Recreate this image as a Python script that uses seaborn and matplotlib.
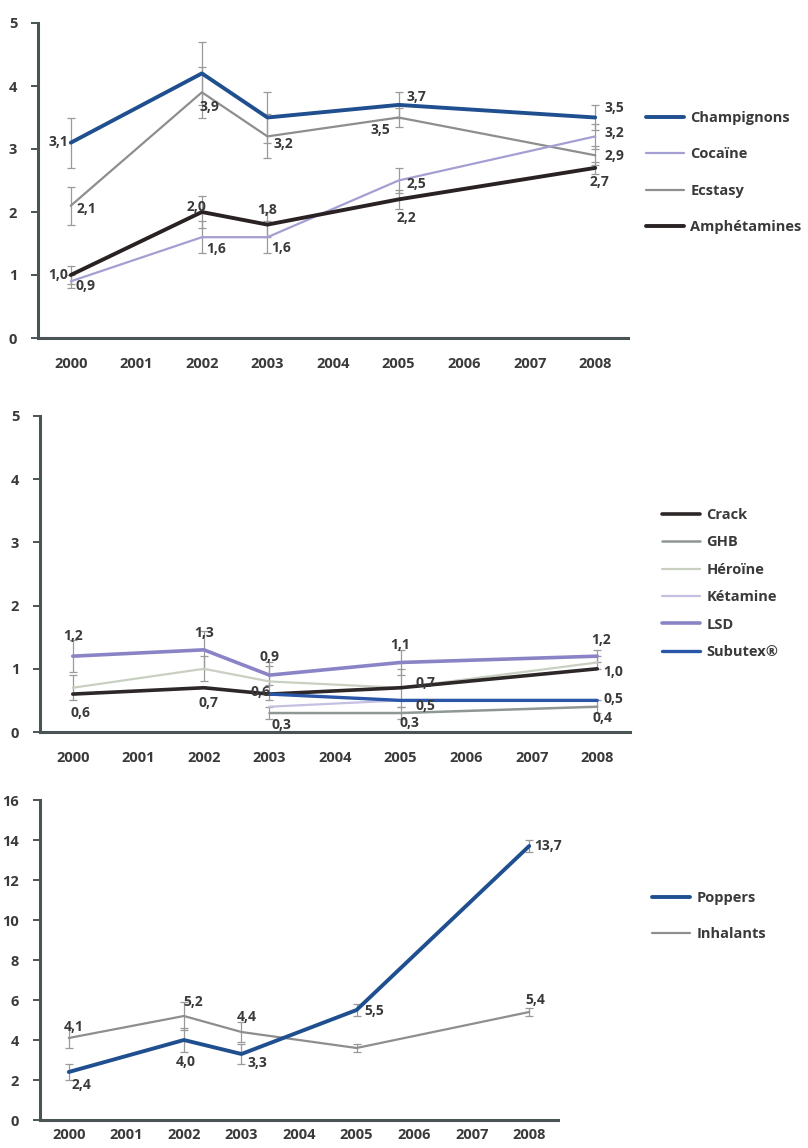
import numpy as np
import pandas as pd
import matplotlib
matplotlib.use("Agg")
import matplotlib.pyplot as plt
from matplotlib.lines import Line2D
import seaborn as sns

sns.set_theme(style="white")
plt.rcParams["font.family"] = ["Open Sans", "DejaVu Sans"]

# ---------------------------------------------------------------- data
years = [2000, 2002, 2003, 2005, 2008]
year_labels = [str(y) for y in range(2000, 2009)]

# panel 1
champignons = [3.1, 4.2, 3.5, 3.7, 3.5]
cocaine = [0.9, 1.6, 1.6, 2.5, 3.2]
ecstasy = [2.1, 3.9, 3.2, 3.5, 2.9]
amphetamines = [1.0, 2.0, 1.8, 2.2, 2.7]
champignons_err = [0.4, 0.5, 0.4, 0.2, 0.2]
cocaine_err = [0.1, 0.25, 0.25, 0.2, 0.2]
ecstasy_err = [0.3, 0.4, 0.35, 0.15, 0.15]
amphetamines_err = [0.15, 0.25, 0.2, 0.15, 0.1]

# panel 2
crack = [0.6, 0.7, 0.6, 0.7, 1.0]
ghb = [np.nan, np.nan, 0.3, 0.3, 0.4]
heroine = [0.7, 1.0, 0.8, 0.7, 1.1]
ketamine = [np.nan, np.nan, 0.4, 0.5, 0.5]
lsd = [1.2, 1.3, 0.9, 1.1, 1.2]
subutex = [np.nan, np.nan, 0.6, 0.5, 0.5]
lsd_err = [0.25, 0.3, 0.15, 0.2, 0.1]
heroine_err = [0.2, 0.2, 0.3, 0.3, 0.1]
ghb_err = [np.nan, np.nan, 0.1, 0.1, 0.1]

# panel 3
poppers = [2.4, 4.0, 3.3, 5.5, 13.7]
inhalants = [4.1, 5.2, 4.4, 3.6, 5.4]
poppers_err = [0.4, 0.6, 0.5, 0.3, 0.3]
inhalants_err = [0.5, 0.7, 0.5, 0.2, 0.2]

# ---------------------------------------------------------------- styles
AXIS_COLOR = "#4a5454"
TEXT_COLOR = "#3a3a3a"
ERR_COLOR = "#9a9a9a"

fig = plt.figure(figsize=(8.08, 11.48), dpi=100)
W, H = 808.0, 1148.0


def make_axes(left, right, top, bottom):
    return fig.add_axes([left / W, 1 - bottom / H, (right - left) / W, (bottom - top) / H])


def style_axes(ax, ymax, ystep, xpad=14):
    ax.set_xlim(1999.5, 2008.5)
    ax.set_ylim(0, ymax)
    ax.set_xticks(range(2000, 2009))
    ax.set_xticklabels(year_labels)
    ax.set_xticks(np.arange(2000.5, 2009.0, 1.0), minor=True)
    ax.set_yticks(np.arange(0, ymax + 0.01, ystep))
    ax.set_yticklabels([f"{int(v)}" for v in np.arange(0, ymax + 0.01, ystep)])
    ax.tick_params(axis="x", which="major", length=0, pad=xpad, labelsize=10.5,
                   labelcolor=TEXT_COLOR)
    ax.tick_params(axis="x", which="minor", length=4, width=1.4, color=AXIS_COLOR,
                   direction="inout")
    ax.tick_params(axis="y", length=5, width=1.4, color=AXIS_COLOR, pad=10,
                   labelsize=10.5, labelcolor=TEXT_COLOR, left=True)
    for lab in ax.get_xticklabels() + ax.get_yticklabels():
        lab.set_fontweight("bold")
    for s in ("top", "right"):
        ax.spines[s].set_visible(False)
    for s in ("left", "bottom"):
        ax.spines[s].set_color(AXIS_COLOR)
        ax.spines[s].set_linewidth(2.2)
    ax.set_xlabel("")
    ax.set_ylabel("")
    ax.grid(False)
    ax.set_facecolor("white")


def draw_series(ax, values, color, lw, err=None):
    df = pd.DataFrame({"year": years, "value": values}).dropna()
    sns.lineplot(data=df, x="year", y="value", ax=ax, color=color, linewidth=lw,
                 legend=False, zorder=3)
    if err is not None:
        e = pd.DataFrame({"year": years, "value": values, "err": err}).dropna()
        ax.errorbar(e["year"], e["value"], yerr=e["err"], fmt="none",
                    ecolor=ERR_COLOR, elinewidth=0.9, capsize=3, capthick=0.9, zorder=2)


def fmt(v):
    return f"{v:.1f}".replace(".", ",")


def label(ax, values, idx, dx, dy, ha="center"):
    v = values[idx]
    ax.annotate(fmt(v), (years[idx], v), xytext=(dx, dy), textcoords="offset pixels",
                ha=ha, va="center", fontsize=10, fontweight="bold", color=TEXT_COLOR,
                zorder=5)


def legend(ax, entries, x0, y_rows):
    # entries: (name, color, lw)
    handles = [Line2D([0], [0], color=c, lw=lw) for _, c, lw in entries]
    names = [n for n, _, _ in entries]
    fs = 10.5
    spacing = (y_rows[1] - y_rows[0]) / (fs * 1.39) - 1.0
    ax.legend(handles, names, loc="upper left",
              bbox_to_anchor=(x0 / W, 1 - (y_rows[0] - 7) / H),
              bbox_transform=fig.transFigure, frameon=False, handlelength=2.6,
              handletextpad=0.45, labelspacing=spacing,
              labelcolor=TEXT_COLOR, borderaxespad=0, borderpad=0,
              prop={"weight": "bold", "size": fs})


# ---------------------------------------------------------------- panel 1
c_champ, c_coca, c_ecst, c_amph = "#1f4f8f", "#a49fd3", "#8e8e8e", "#2a2222"
ax1 = make_axes(38, 628, 23, 338)
draw_series(ax1, ecstasy, c_ecst, 1.6, ecstasy_err)
draw_series(ax1, cocaine, c_coca, 1.6, cocaine_err)
draw_series(ax1, champignons, c_champ, 2.8, champignons_err)
draw_series(ax1, amphetamines, c_amph, 2.8, amphetamines_err)
style_axes(ax1, 5, 1)

label(ax1, champignons, 0, -3, 1, "right")
label(ax1, ecstasy, 0, 6, -3, "left")
label(ax1, amphetamines, 0, -3, 0, "right")
label(ax1, cocaine, 0, 5, -5, "left")
label(ax1, ecstasy, 1, 8, -15)
label(ax1, amphetamines, 1, -5, 5)
label(ax1, cocaine, 1, 4, -12, "left")
label(ax1, ecstasy, 2, 6, -8, "left")
label(ax1, amphetamines, 2, 0, 15)
label(ax1, cocaine, 2, 4, -11, "left")
label(ax1, champignons, 3, 8, 8, "left")
label(ax1, ecstasy, 3, -8, -12, "right")
label(ax1, cocaine, 3, 8, -4, "left")
label(ax1, amphetamines, 3, 8, -19)
label(ax1, champignons, 4, 9, 10, "left")
label(ax1, cocaine, 4, 9, 3, "left")
label(ax1, ecstasy, 4, 9, -1, "left")
label(ax1, amphetamines, 4, 4, -14)

legend(ax1, [("Champignons", c_champ, 2.8), ("Cocaïne", c_coca, 1.6),
             ("Ecstasy", c_ecst, 1.6), ("Amphétamines", c_amph, 2.8)],
       646, [118, 155, 192, 230])

# ---------------------------------------------------------------- panel 2
c_crack, c_ghb, c_hero, c_keta, c_lsd, c_subu = (
    "#2d2727", "#8f9696", "#c9d0c2", "#c4c0e2", "#8a84c6", "#2a56a8")
ax2 = make_axes(40, 630, 416, 732)
draw_series(ax2, heroine, c_hero, 1.6, heroine_err)
draw_series(ax2, ghb, c_ghb, 1.8, ghb_err)
draw_series(ax2, ketamine, c_keta, 1.6)
draw_series(ax2, lsd, c_lsd, 2.6, lsd_err)
draw_series(ax2, crack, c_crack, 2.6)
draw_series(ax2, subutex, c_subu, 2.4)
style_axes(ax2, 5, 1)

label(ax2, lsd, 0, 0, 20)
label(ax2, crack, 0, 8, -19)
label(ax2, lsd, 1, 0, 17)
label(ax2, crack, 1, 5, -15)
label(ax2, lsd, 2, 0, 18)
label(ax2, crack, 2, -9, 2)
label(ax2, ghb, 2, 2, -12, "left")
label(ax2, lsd, 3, 0, 17)
label(ax2, crack, 3, 15, 5, "left")
label(ax2, subutex, 3, 15, -6, "left")
label(ax2, ghb, 3, 9, -10)
label(ax2, lsd, 4, 4, 16)
label(ax2, crack, 4, 6, -3, "left")
label(ax2, subutex, 4, 6, 1, "left")
label(ax2, ghb, 4, 5, -11)

legend(ax2, [("Crack", c_crack, 2.6), ("GHB", c_ghb, 1.8), ("Héroïne", c_hero, 1.6),
             ("Kétamine", c_keta, 1.6), ("LSD", c_lsd, 2.6), ("Subutex®", c_subu, 2.4)],
       662, [515, 543, 570, 597, 625, 652])

# ---------------------------------------------------------------- panel 3
c_pop, c_inh = "#1f4f8f", "#8e8e8e"
ax3 = make_axes(40, 558, 800, 1120)
draw_series(ax3, inhalants, c_inh, 1.6, inhalants_err)
draw_series(ax3, poppers, c_pop, 2.8, poppers_err)
style_axes(ax3, 16, 2, xpad=6)

label(ax3, inhalants, 0, 5, 11)
label(ax3, poppers, 0, 3, -13, "left")
label(ax3, inhalants, 1, 9, 14)
label(ax3, poppers, 1, 2, -22)
label(ax3, inhalants, 2, 5, 15)
label(ax3, poppers, 2, 6, -9, "left")
label(ax3, poppers, 3, 8, -1, "left")
label(ax3, poppers, 4, 5, 0, "left")
label(ax3, inhalants, 4, 6, 12)

legend(ax3, [("Poppers", c_pop, 2.8), ("Inhalants", c_inh, 1.6)], 652, [898, 935])

fig.savefig("out.png", dpi=100, facecolor="white")
